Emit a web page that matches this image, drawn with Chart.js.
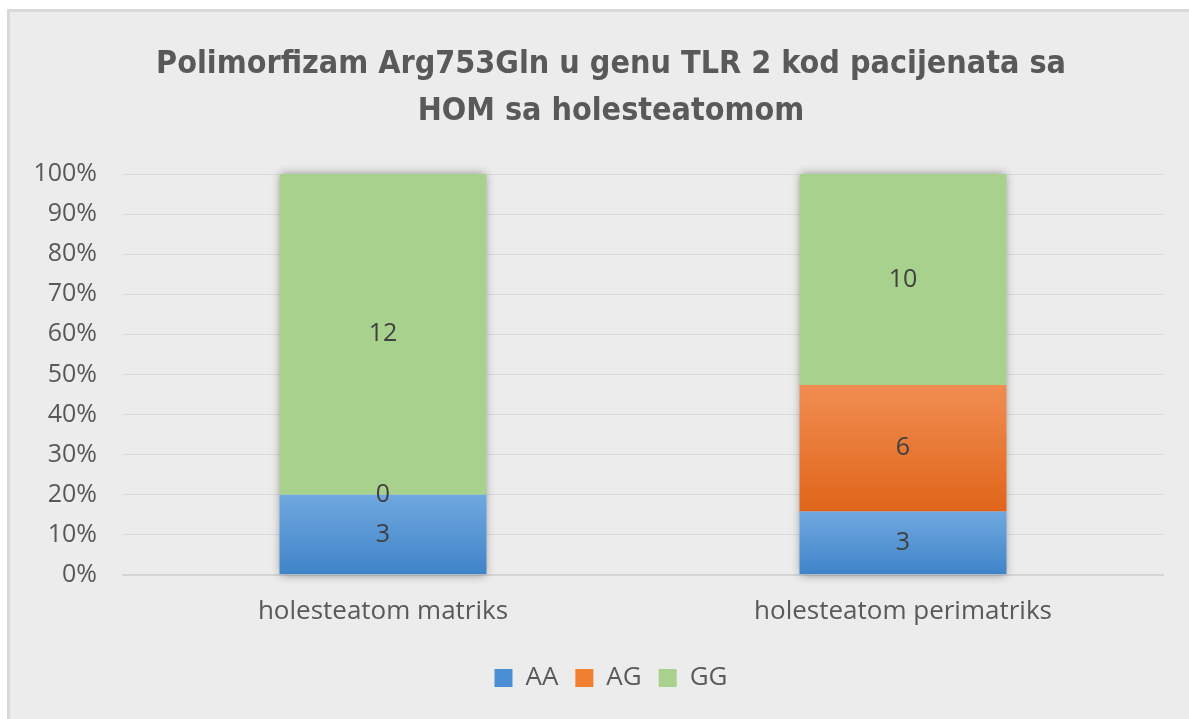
<!DOCTYPE html>
<html>
<head>
<meta charset="utf-8">
<script src="https://cdn.jsdelivr.net/npm/chart.js@4.4.0/dist/chart.umd.min.js"></script>
<style>
    body { margin: 0; background: #ffffff; }
    #wrap {
        position: absolute; left: 7px; top: 9px; width: 1182px; height: 710px;
        box-sizing: border-box; border-left: 3px solid #d9d9d9; border-top: 3px solid #d9d9d9;
        background: #ececec;
    }
    canvas { display: block; }
</style>
</head>
<body>
<div id="wrap"><canvas id="tlrChart" width="1179" height="707"></canvas></div>
<script>
// Données du graphique
const categories = ['holesteatom matriks', 'holesteatom perimatriks'];
const seriesNames = ['AA', 'AG', 'GG'];
const countsAA = [3, 3];
const countsAG = [0, 6];
const countsGG = [12, 10];
const yTicks = [0, 10, 20, 30, 40, 50, 60, 70, 80, 90, 100];

const counts = [countsAA, countsAG, countsGG];
const totals = categories.map((c, i) => counts.reduce((s, arr) => s + arr[i], 0));
const percents = counts.map(arr => arr.map((v, i) => v / totals[i] * 100));

// Couleurs (haut / bas du dégradé)
const flatColors = ['#4a8fd4', '#f07f2f', '#a9d18e'];
const gradColors = [
    ['#70a8e0', '#3f84c8'],
    ['#f08d52', '#e0651a'],
    ['#a9d18e', '#a9d18e']
];

const FONT = '"Open Sans", "Noto Sans", sans-serif';
const TITLE_FONT = '"Liberation Sans Narrow", "DejaVu Sans Condensed", "Open Sans", sans-serif';

function segmentFill(ds) {
    return function(c) {
        const chart = c.chart;
        const y = chart.scales.y;
        if (!chart.chartArea || !y || c.type !== 'data') return flatColors[ds];
        let base = 0;
        for (let k = 0; k < ds; k++) base += percents[k][c.dataIndex];
        const top = base + percents[ds][c.dataIndex];
        const y0 = y.getPixelForValue(base);
        const y1 = y.getPixelForValue(top);
        if (Math.abs(y0 - y1) < 1) return flatColors[ds];
        const g = chart.ctx.createLinearGradient(0, y1, 0, y0);
        g.addColorStop(0, gradColors[ds][0]);
        g.addColorStop(1, gradColors[ds][1]);
        return g;
    };
}

// L'axe Y peut dessiner ses libellés dans la marge gauche
const labelAreaPlugin = {
    id: 'yLabelArea',
    afterLayout(chart) {
        chart.scales.y.left = 0;
    }
};

// Ombre derrière chaque barre empilée
const shadowPlugin = {
    id: 'barShadow',
    beforeDatasetsDraw(chart) {
        const meta = chart.getDatasetMeta(0);
        const y = chart.scales.y;
        const ctx = chart.ctx;
        ctx.save();
        ctx.shadowColor = 'rgba(0,0,0,0.4)';
        ctx.shadowBlur = 9;
        ctx.fillStyle = '#cccccc';
        meta.data.forEach(el => {
            const top = y.getPixelForValue(100);
            const bottom = y.getPixelForValue(0);
            ctx.fillRect(el.x - el.width / 2, top, el.width, bottom - top);
        });
        ctx.restore();
    }
};

// Étiquettes des valeurs au centre des segments
const labelPlugin = {
    id: 'segLabels',
    afterDatasetsDraw(chart) {
        const ctx = chart.ctx;
        ctx.save();
        ctx.font = '25px ' + FONT;
        ctx.fillStyle = '#404040';
        ctx.textAlign = 'center';
        ctx.textBaseline = 'middle';
        chart.data.datasets.forEach((ds, di) => {
            chart.getDatasetMeta(di).data.forEach((el, i) => {
                ctx.fillText(String(counts[di][i]), el.x, (el.y + el.base) / 2);
            });
        });
        ctx.restore();
    }
};

new Chart(document.getElementById('tlrChart'), {
    type: 'bar',
    data: {
        labels: categories,
        datasets: seriesNames.map((name, di) => ({
            label: name,
            data: percents[di],
            backgroundColor: segmentFill(di),
            borderWidth: 0,
            barPercentage: 1,
            categoryPercentage: 0.398
        }))
    },
    options: {
        responsive: false,
        animation: false,
        layout: { padding: { left: 49, right: 26, top: 0, bottom: 18 } },
        plugins: {
            title: {
                display: true,
                text: ['Polimorfizam Arg753Gln u genu TLR 2 kod pacijenata sa', 'HOM sa holesteatomom'],
                color: '#595959',
                font: { family: TITLE_FONT, size: 32, weight: 'bold', lineHeight: 1.47 },
                padding: { top: 29, bottom: 39 }
            },
            legend: {
                position: 'bottom',
                labels: {
                    color: '#595959',
                    font: { family: FONT, size: 26 },
                    boxWidth: 18,
                    boxHeight: 18,
                    padding: 17,
                    generateLabels: () => seriesNames.map((n, i) => ({
                        text: n, fillStyle: flatColors[i], strokeStyle: flatColors[i],
                        lineWidth: 0, datasetIndex: i, fontColor: '#595959'
                    }))
                }
            },
            tooltip: { enabled: false }
        },
        scales: {
            x: {
                stacked: true,
                grid: { display: false, drawTicks: false },
                border: { color: '#d4d4d4', width: 2 },
                ticks: { color: '#595959', font: { family: FONT, size: 26 }, padding: 21 }
            },
            y: {
                stacked: true,
                min: 0,
                max: 100,
                afterBuildTicks: scale => { scale.ticks = yTicks.map(v => ({ value: v })); },
                afterFit: scale => { scale.width = 64; },
                grid: { color: '#d9d9d9', lineWidth: 1, drawTicks: false },
                border: { display: false },
                ticks: {
                    color: '#595959',
                    font: { family: FONT, size: 25 },
                    padding: 26,
                    callback: v => v + '%'
                }
            }
        }
    },
    plugins: [labelAreaPlugin, shadowPlugin, labelPlugin]
});
</script>
</body>
</html>
